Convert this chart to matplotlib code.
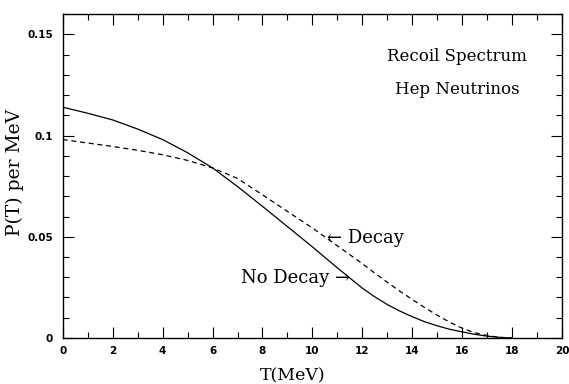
import numpy as np
import matplotlib
matplotlib.use("Agg")
import matplotlib.pyplot as plt
from matplotlib.ticker import MultipleLocator

# recoil energy T (MeV) and spectra
T = [0, 1, 2, 3, 4, 5, 6, 7, 8, 9, 10, 11, 12, 12.5, 13, 13.5,
     14, 14.5, 15, 15.5, 16, 16.5, 17, 17.5, 18]
p_no_decay = [0.1140, 0.1110, 0.1077, 0.1032, 0.0980, 0.0915, 0.0840,
              0.0748, 0.0650, 0.0550, 0.0450, 0.0346, 0.0246, 0.0203,
              0.0165, 0.0133, 0.0105, 0.0080, 0.0060, 0.0043, 0.0030,
              0.0018, 0.0009, 0.0003, 0.0000]
p_decay = [0.0980, 0.0963, 0.0946, 0.0927, 0.0905, 0.0877, 0.0840,
           0.0788, 0.0707, 0.0625, 0.0543, 0.0455, 0.0367, 0.0320,
           0.0275, 0.0231, 0.0190, 0.0150, 0.0112, 0.0078, 0.0048,
           0.0026, 0.0012, 0.0003, 0.0000]

xticks = [0, 2, 4, 6, 8, 10, 12, 14, 16, 18, 20]
yticks = [0, 0.05, 0.1, 0.15]
yticklabels = ["0", "0.05", "0.1", "0.15"]

serif = "DejaVu Serif"

fig = plt.figure(figsize=(5.69, 3.84), dpi=100)
ax = fig.add_axes([0.1102, 0.1198, 0.8778, 0.8437])

ax.plot(T, p_no_decay, color="black", lw=0.9)
ax.plot(T, p_decay, color="black", lw=0.9, ls=(0, (4, 3)))

ax.set_xlim(0, 20)
ax.set_ylim(0, 0.16)
ax.set_xticks(xticks)
ax.set_xticklabels([str(v) for v in xticks])
ax.set_yticks(yticks)
ax.set_yticklabels(yticklabels)
ax.xaxis.set_minor_locator(MultipleLocator(1))
ax.yaxis.set_minor_locator(MultipleLocator(0.01))

ax.tick_params(which="both", direction="in", top=True, right=True,
               width=0.8, labelsize=7.5)
ax.tick_params(which="major", length=8)
ax.tick_params(which="minor", length=4.3)
ax.tick_params(axis="x", pad=6)
ax.tick_params(axis="y", pad=7)
for lab in ax.get_xticklabels() + ax.get_yticklabels():
    lab.set_fontweight("bold")
for sp in ax.spines.values():
    sp.set_linewidth(1.0)

ax.set_xlabel("T(MeV)", family=serif, fontsize=12.5)
ax.xaxis.set_label_coords(0.46, -0.09)
ax.set_ylabel("P(T) per MeV", family=serif, fontsize=13.5)
ax.yaxis.set_label_coords(-0.078, 0.51)

ax.text(15.8, 0.1388, "Recoil Spectrum", family=serif, fontsize=12,
        ha="center", va="center")
ax.text(15.8, 0.1225, "Hep Neutrinos", family=serif, fontsize=12,
        ha="center", va="center")

ax.text(10.6, 0.0495, "\u2190 Decay", family=serif, fontsize=13,
        ha="left", va="center")
ax.text(11.5, 0.0296, "No Decay \u2192", family=serif, fontsize=13,
        ha="right", va="center")

fig.savefig("out.png", dpi=100)
